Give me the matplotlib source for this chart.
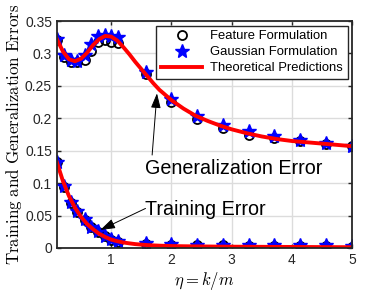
import matplotlib.pyplot as plt

plt.rcParams['font.family'] = ['Liberation Sans', 'DejaVu Sans']
plt.rcParams['mathtext.fontset'] = 'cm'

# sample points (eta = k/m)
eta_pts = [0.1, 0.22, 0.33, 0.44, 0.56, 0.67, 0.78, 0.89, 1.0, 1.11,
           1.57, 2.0, 2.43, 2.86, 3.29, 3.71, 4.14, 4.57, 5.0]

gen_feature = [0.320, 0.295, 0.287, 0.287, 0.290, 0.304, 0.318, 0.320, 0.318, 0.316,
               0.268, 0.225, 0.199, 0.185, 0.175, 0.170, 0.165, 0.161, 0.157]
gen_gauss = [0.323, 0.298, 0.290, 0.289, 0.298, 0.315, 0.327, 0.328, 0.327, 0.326,
             0.271, 0.229, 0.204, 0.190, 0.180, 0.173, 0.167, 0.162, 0.158]

train_feature = [0.132, 0.094, 0.070, 0.056, 0.043, 0.032, 0.025, 0.018, 0.013, 0.010,
                 0.006, 0.005, 0.004, 0.004, 0.003, 0.003, 0.003, 0.003, 0.002]
train_gauss = [0.133, 0.095, 0.071, 0.057, 0.044, 0.033, 0.026, 0.019, 0.014, 0.011,
               0.007, 0.006, 0.005, 0.005, 0.004, 0.004, 0.004, 0.004, 0.003]

# theoretical curves
eta_th = [0.1, 0.2, 0.3, 0.4, 0.5, 0.6, 0.7, 0.8, 0.9, 1.0, 1.1, 1.2, 1.3, 1.4,
          1.5, 1.6, 1.7, 1.8, 2.0, 2.2, 2.4, 2.6, 2.8, 3.0, 3.25, 3.5, 3.75,
          4.0, 4.25, 4.5, 4.75, 5.0]
gen_th = [0.322, 0.303, 0.291, 0.288, 0.292, 0.301, 0.313, 0.322, 0.327, 0.326,
          0.320, 0.310, 0.299, 0.287, 0.276, 0.265, 0.254, 0.244, 0.228, 0.215,
          0.204, 0.196, 0.189, 0.183, 0.177, 0.172, 0.168, 0.165, 0.163, 0.161,
          0.159, 0.157]
train_th = [0.132, 0.103, 0.080, 0.062, 0.048, 0.037, 0.029, 0.022, 0.017, 0.013,
            0.0105, 0.0085, 0.0072, 0.006, 0.0052, 0.0045, 0.004, 0.0036, 0.003,
            0.0027, 0.0025, 0.0023, 0.0021, 0.002, 0.0019, 0.0018, 0.0017, 0.0016,
            0.0015, 0.0014, 0.0013, 0.0012]

fig = plt.figure(figsize=(3.9, 2.93), dpi=100)
ax = fig.add_axes([0.146, 0.1536, 0.757, 0.7746])

ax.plot(eta_pts, gen_feature, 'o', mfc='none', mec='black', ms=6.5, mew=1.3,
        label='Feature Formulation')
ax.plot(eta_pts, train_feature, 'o', mfc='none', mec='black', ms=6.5, mew=1.3)
ax.plot(eta_pts, gen_gauss, '*', color='blue', ms=10.5, mec='blue',
        label='Gaussian Formulation')
ax.plot(eta_pts, train_gauss, '*', color='blue', ms=10.5, mec='blue')
ax.plot(eta_th, gen_th, '-', color='red', lw=2.8, label='Theoretical Predictions')
ax.plot(eta_th, train_th, '-', color='red', lw=2.8)

ax.set_xlim(0.1, 5)
ax.set_ylim(0, 0.35)
ax.set_xticks([1, 2, 3, 4, 5])
ax.set_yticks([0, 0.05, 0.1, 0.15, 0.2, 0.25, 0.3, 0.35])
ax.set_yticklabels(['0', '0.05', '0.1', '0.15', '0.2', '0.25', '0.3', '0.35'])
ax.grid(True, color='#dcdcdc', lw=1.0)
ax.set_axisbelow(True)
ax.tick_params(direction='in', top=True, right=True, labelsize=10, colors='#262626',
               length=3, width=1)
for s in ax.spines.values():
    s.set_linewidth(1.3)
    s.set_color('#262626')

ax.set_xlabel(r'$\eta = k/m$', fontsize=12, labelpad=2)
ax.set_ylabel(r'$\mathrm{Training\ and\ Generalization\ Errors}$', fontsize=12.2, labelpad=1)

ax.text(3.03, 0.123, 'Generalization Error', fontsize=14.2, ha='center', va='center')
ax.text(2.56, 0.060, 'Training Error', fontsize=14.2, ha='center', va='center')
ax.annotate('', xy=(1.76, 0.2385), xytext=(1.68, 0.1434),
            arrowprops=dict(arrowstyle='-|>,head_length=0.9,head_width=0.3',
                            color='black', lw=0.7, shrinkA=0, shrinkB=0))
ax.annotate('', xy=(0.82, 0.0278), xytext=(1.57, 0.061),
            arrowprops=dict(arrowstyle='-|>,head_length=0.9,head_width=0.3',
                            color='black', lw=0.7, shrinkA=0, shrinkB=0))

leg = ax.legend(loc='upper right', fontsize=9.4, handlelength=3.2, handletextpad=0.6,
                borderaxespad=0.35, fancybox=False, framealpha=1,
                edgecolor='#262626', borderpad=0.35, labelspacing=0.3)
leg.get_frame().set_linewidth(1.0)

fig.savefig('out.png', dpi=100)
